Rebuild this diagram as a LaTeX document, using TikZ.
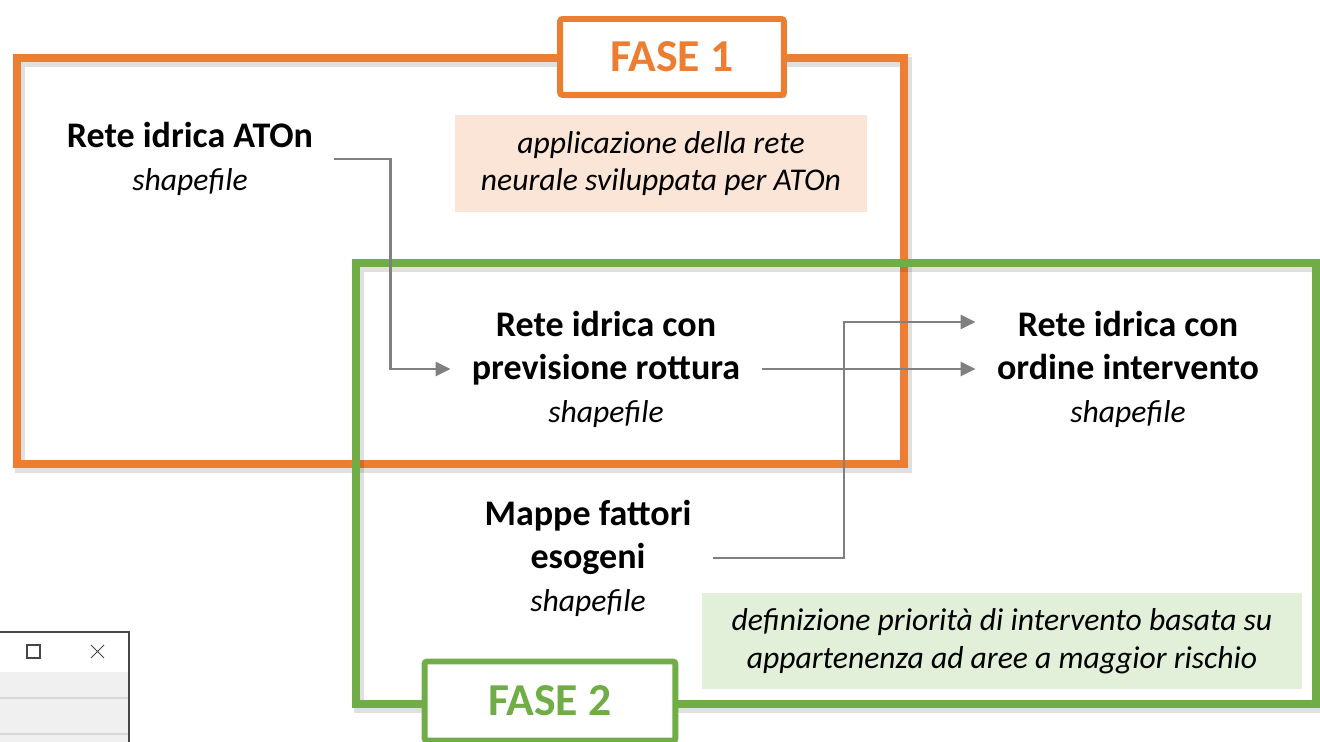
\documentclass[tikz,border=0pt]{standalone}
\usepackage{fontspec}
\setmainfont{Carlito}
\usepackage{tikz}
\usetikzlibrary{arrows.meta, calc, shadows}
\definecolor{faseor}{RGB}{237,125,49}
\definecolor{fasegr}{RGB}{112,173,71}
\definecolor{notepeach}{RGB}{251,229,214}
\definecolor{notegreen}{RGB}{226,240,217}
\definecolor{conngray}{RGB}{128,128,128}
\definecolor{winbg}{RGB}{240,240,240}
\definecolor{winline}{RGB}{215,215,215}
\definecolor{wingray}{RGB}{70,70,70}
\newcommand{\shp}{\\[-1pt]{\mdseries\itshape\fontsize{18}{24}\selectfont shapefile}}
\tikzset{
  orframe/.style={draw=faseor, line width=4.5pt},
  grframe/.style={draw=fasegr, line width=4.3pt},
  frameshadow/.style={draw=black, opacity=0.12, line width=6pt},
  phasebox/.style={rectangle, fill=white, line width=3.4pt,
    rounded corners=1.5pt, font=\fontsize{26}{30}\selectfont\bfseries,
    drop shadow={opacity=0.3, shadow xshift=1.5pt, shadow yshift=-2pt}},
  notebox/.style={rectangle, align=center,
    font=\fontsize{18}{21.5}\selectfont\itshape},
  layer/.style={align=center, inner sep=12pt,
    font=\fontsize{20.5}{25}\selectfont\bfseries},
  conn/.style={-{Triangle[length=8.5pt, width=8pt]}, line width=1.4pt, color=conngray}
}

\begin{document}
\begin{tikzpicture}[x=0.02cm, y=-0.02cm]
  \useasboundingbox (0,0) rectangle (1320,742);

  % ── window fragment (bottom left) ──────────────────────────────────────────
  \fill[winbg] (0,672) rectangle (129,742);
  \fill[white] (0,632) rectangle (129,672);
  \draw[winline, line width=1.2pt] (0,698) -- (129,698);
  \draw[winline, line width=1.2pt] (0,734) -- (129,734);
  \draw[wingray, line width=0.7pt] (0,632) -- (129,632) -- (129,742);
  \draw[wingray, line width=0.6pt] (27,645) rectangle (40,658);
  \draw[wingray, line width=0.5pt] (91,645) -- (104,658) (91,658) -- (104,645);

  % ── FASE 1 frame ───────────────────────────────────────────────────────────
  \draw[frameshadow, shift={(3,4)}] (17,58) rectangle (904,464);
  \draw[orframe] (17,58) rectangle (904,464);

  % ── FASE 2 frame ───────────────────────────────────────────────────────────
  \draw[frameshadow, shift={(3,4)}] (356,263) rectangle (1316,704);
  \draw[grframe] (356,263) rectangle (1316,704);

  % Phase labels
  \node[phasebox, draw=faseor, text=faseor, minimum width=4.48cm, minimum height=1.52cm] (fase1) at (672,57) {FASE 1};
  \node[phasebox, draw=fasegr, text=fasegr, minimum width=5.02cm, minimum height=1.58cm] (fase2) at (550,701) {FASE 2};

  % Notes
  \node[notebox, fill=notepeach, minimum width=8.24cm, minimum height=1.94cm] (note1) at (661,163.5)
    {applicazione della rete\\neurale sviluppata per ATOn};
  \node[notebox, fill=notegreen, minimum width=12cm, minimum height=1.92cm] (note2) at (1002,641)
    {definizione priorità di intervento basata su\\appartenenza ad aree a maggior rischio};

  % ── data layers ────────────────────────────────────────────────────────────
  \node[layer] (aton) at (190,159) {Rete idrica ATOn\shp};
  \node[layer] (prev) at (606,369) {Rete idrica con\\previsione rottura\shp};
  \node[layer] (ord) at (1128,369) {Rete idrica con\\ordine intervento\shp};
  \node[layer] (mappe) at (588,558) {Mappe fattori\\esogeni\shp};

  % Connectors
  \draw[conn] (aton.east) -- ++(56,0) |- (prev.west);
  \draw[conn] (prev.east) -- (ord.west);
  \draw[conn] (mappe.east) -- ++(131,0) |- ($(ord.west)+(0,-47)$);
\end{tikzpicture}
\end{document}
